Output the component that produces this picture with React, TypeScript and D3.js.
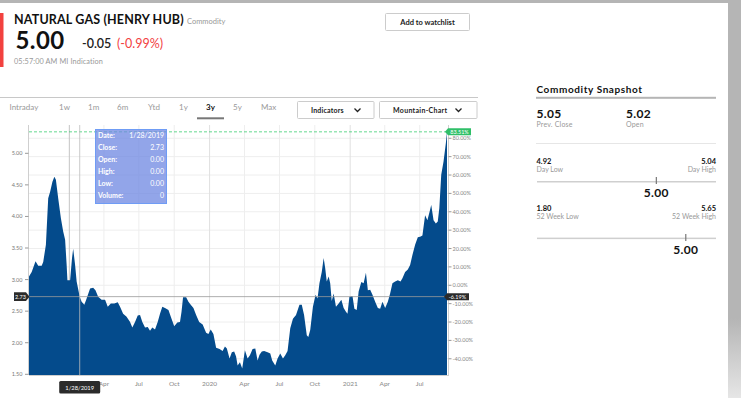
import React from 'react';
import * as d3 from 'd3';

const DATES = [
  '2018-09-18','2018-09-25','2018-10-05','2018-10-12','2018-10-21','2018-10-25','2018-11-01','2018-11-07','2018-11-12','2018-11-18',
  '2018-11-23','2018-11-27','2018-12-03','2018-12-10','2018-12-16','2018-12-21','2018-12-25','2018-12-27','2019-01-03','2019-01-08',
  '2019-01-11','2019-01-16','2019-01-20','2019-01-28','2019-02-02','2019-02-09','2019-02-15','2019-02-24','2019-03-04','2019-03-10',
  '2019-03-17','2019-03-26','2019-04-04','2019-04-11','2019-04-19','2019-04-28','2019-05-07','2019-05-13','2019-05-21','2019-05-30',
  '2019-06-08','2019-06-14','2019-06-21','2019-06-28','2019-07-04','2019-07-10','2019-07-17','2019-07-24','2019-07-30','2019-08-05',
  '2019-08-12','2019-08-19','2019-08-25','2019-08-31','2019-09-07','2019-09-16','2019-09-24','2019-10-01','2019-10-09','2019-10-16',
  '2019-10-20','2019-10-24','2019-11-01','2019-11-07','2019-11-13','2019-11-20','2019-11-27','2019-12-05','2019-12-14','2019-12-23',
  '2019-12-29','2020-01-04','2020-01-11','2020-01-18','2020-01-27','2020-02-04','2020-02-10','2020-02-15','2020-02-22','2020-02-28',
  '2020-03-05','2020-03-10','2020-03-14','2020-03-20','2020-03-26','2020-04-02','2020-04-09','2020-04-15','2020-04-22','2020-04-29',
  '2020-05-05','2020-05-10','2020-05-16','2020-05-22','2020-05-31','2020-06-07','2020-06-12','2020-06-20','2020-06-26','2020-07-03',
  '2020-07-10','2020-07-16','2020-07-22','2020-07-29','2020-08-05','2020-08-13','2020-08-22','2020-08-28','2020-09-03','2020-09-10',
  '2020-09-14','2020-09-19','2020-09-26','2020-10-03','2020-10-08','2020-10-13','2020-10-19','2020-10-24','2020-10-28','2020-11-01',
  '2020-11-06','2020-11-10','2020-11-14','2020-11-19','2020-11-25','2020-12-02','2020-12-09','2020-12-15','2020-12-21','2020-12-25',
  '2020-12-30','2021-01-07','2021-01-12','2021-01-18','2021-01-23','2021-01-30','2021-02-05','2021-02-11','2021-02-16','2021-02-22',
  '2021-02-28','2021-03-07','2021-03-14','2021-03-20','2021-03-26','2021-04-02','2021-04-09','2021-04-15','2021-04-21','2021-04-28',
  '2021-05-05','2021-05-12','2021-05-17','2021-05-24','2021-05-31','2021-06-06','2021-06-12','2021-06-19','2021-06-26','2021-07-02',
  '2021-07-08','2021-07-15','2021-07-21','2021-07-26','2021-07-31','2021-08-06','2021-08-12','2021-08-17','2021-08-21','2021-08-26',
  '2021-09-01','2021-09-07','2021-09-10',
];

const CLOSE = [
  3.05,3.12,3.29,3.22,3.22,3.28,3.55,4.29,4.39,4.55,
  4.63,4.58,4.29,3.97,3.76,3.63,3.23,2.99,2.99,3.34,
  3.49,3.23,2.97,2.73,2.65,2.60,2.70,2.86,2.87,2.83,
  2.73,2.68,2.68,2.57,2.62,2.62,2.64,2.57,2.46,2.41,
  2.33,2.24,2.33,2.43,2.44,2.33,2.24,2.25,2.19,2.24,
  2.21,2.33,2.46,2.57,2.55,2.52,2.38,2.26,2.32,2.33,
  2.49,2.72,2.72,2.65,2.60,2.55,2.44,2.33,2.29,2.16,
  2.14,2.21,2.14,1.92,1.90,1.87,1.94,1.91,1.75,1.85,
  1.86,1.78,1.64,1.69,1.59,1.88,1.75,1.80,1.90,1.91,
  1.72,1.81,1.86,1.87,1.85,1.83,1.72,1.64,1.75,1.83,
  1.75,1.80,1.87,2.23,2.38,2.44,2.60,2.60,2.44,2.12,
  2.09,2.20,2.57,2.76,2.70,2.94,3.12,3.34,3.18,2.97,
  3.05,2.94,2.66,2.78,2.57,2.62,2.68,2.55,2.49,2.46,
  2.73,2.74,2.54,2.52,2.81,2.96,2.94,3.11,2.83,2.84,
  2.76,2.65,2.55,2.54,2.65,2.55,2.65,2.78,2.94,2.97,
  2.99,2.97,3.02,3.12,3.16,3.23,3.39,3.55,3.67,3.68,
  3.70,4.02,3.94,4.06,4.18,3.94,3.89,3.92,4.13,4.66,
  4.87,5.16,5.34,
];

const BASE_PRICE = 2.91;
const PRICE_TICKS = [1.5, 2, 2.5, 3, 3.5, 4, 4.5, 5];
const PCT_TICKS = [-40, -30, -20, -10, 0, 10, 20, 30, 40, 50, 60, 70, 80];
const HOVER_DATE = '2019-01-28';
const HOVER_ROWS = [['Date:', '1/28/2019'], ['Close:', '2.73'], ['Open:', '0.00'], ['High:', '0.00'], ['Low:', '0.00'], ['Volume:', '0']];
const TABS = ['Intraday', '1w', '1m', '6m', 'Ytd', '1y', '3y', '5y', 'Max'];
const ACTIVE_TAB = '3y';

const LAST_PRICE = 5.0;
const CHANGE = '-0.05';
const CHANGE_PCT = '(-0.99%)';
const PREV_CLOSE = 5.05;
const OPEN = 5.02;
const DAY_LOW = 4.92;
const DAY_HIGH = 5.04;
const WEEK52_LOW = 1.8;
const WEEK52_HIGH = 5.65;

const FONT = "Lato, 'Open Sans', sans-serif";
const TAB_X = [9.5, 59, 88, 117, 148, 179, 206, 233, 261];

export default function App() {
  const parse = d3.timeParse('%Y-%m-%d');
  const data = DATES.map((d, i) => ({ date: parse(d) as Date, v: CLOSE[i] }));
  const L = 29, R = 447, T = 125, B = 375;
  const x = d3.scaleTime().domain(d3.extent(data, (d) => d.date) as [Date, Date]).range([L, R]);
  const y = d3.scaleLinear().domain([1.5, 5]).range([374.3, 153.3]);
  const pctY = (p: number) => y(BASE_PRICE * (1 + p / 100));
  const area = d3.area<{ date: Date; v: number }>().x((d) => x(d.date)).y0(B).y1((d) => y(d.v));
  const monthTicks = x.ticks(d3.timeMonth.every(3) as any).filter((d) => d >= new Date(2019, 0, 1));
  const fmt = (d: Date) => (d.getMonth() === 0 ? d3.timeFormat('%Y')(d) : d3.timeFormat('%b')(d));
  const last = data[data.length - 1];
  const lastPct = (last.v / BASE_PRICE - 1) * 100;
  const hover = data.find((d) => d3.timeFormat('%Y-%m-%d')(d.date) === HOVER_DATE)!;
  const hoverPct = (hover.v / BASE_PRICE - 1) * 100;
  const hx = x(hover.date);
  const hy = y(hover.v);
  const ly = y(last.v);

  const dayScale = d3.scaleLinear().domain([DAY_LOW, DAY_HIGH]).range([537, 716]);
  const wkScale = d3.scaleLinear().domain([WEEK52_LOW, WEEK52_HIGH]).range([537, 716]);

  return (
    <svg width={741} height={398} style={{ position: 'absolute', left: 0, top: 0, fontFamily: FONT }}>
      <defs>
        <linearGradient id="sideGrad" x1="0" y1="0" x2="0" y2="1">
          <stop offset="0.8" stopColor="#b5b5b5" />
          <stop offset="1" stopColor="#e6e6e6" />
        </linearGradient>
      </defs>
      <rect x={0} y={0} width={741} height={398} fill="#fff" />
      <rect x={0} y={0} width={741} height={3} fill="#b5b5b5" />
      <rect x={728} y={0} width={13} height={398} fill="url(#sideGrad)" />

      {/* Header */}
      <rect x={0} y={13} width={3.5} height={54} fill="#f2413f" />
      <text x={14} y={24} fontSize={12.5} fontWeight={700} fill="#111" letterSpacing={0.15}>NATURAL GAS (HENRY HUB)</text>
      <text x={187} y={23.5} fontSize={7.5} fill="#999">Commodity</text>
      <text x={15.5} y={48.5} fontSize={24} fontWeight={700} fill="#111" letterSpacing={0.4}>{LAST_PRICE.toFixed(2)}</text>
      <text x={82} y={48.3} fontSize={12.5} fill="#222" fontWeight={700} style={{ fontWeight: 600 }}>{CHANGE}</text>
      <text x={117} y={48.3} fontSize={12.5} fill="#f2413f">{CHANGE_PCT}</text>
      <text x={14} y={64} fontSize={7.3} fill="#999" letterSpacing={0.1}>05:57:00 AM  MI Indication</text>
      <rect x={385.5} y={13.5} width={84} height={17} fill="#fff" stroke="#ccc" rx={1} />
      <text x={427.5} y={24.5} fontSize={7.5} fontWeight={700} fill="#222" textAnchor="middle">Add to watchlist</text>

      {/* Tabs */}
      <line x1={0} x2={478} y1={97.5} y2={97.5} stroke="#c8c8c8" />
      {TABS.map((t, i) => (
        <text key={t} x={TAB_X[i]} y={110} fontSize={8} fill={t === ACTIVE_TAB ? '#111' : '#999'} fontWeight={t === ACTIVE_TAB ? 700 : 400}>{t}</text>
      ))}
      <rect x={197} y={117.3} width={27} height={2} fill="#777" />
      <rect x={297.5} y={101.5} width={76.5} height={17} fill="#fff" stroke="#ccc" rx={1} />
      <text x={311} y={112.5} fontSize={7} fontWeight={700} fill="#222" letterSpacing={0.2}>Indicators</text>
      <path d="M354.5,108.5 L357.5,111.5 L360.5,108.5" fill="none" stroke="#222" strokeWidth={1.3} />
      <rect x={379.5} y={101.5} width={97.5} height={17} fill="#fff" stroke="#ccc" rx={1} />
      <text x={393} y={112.5} fontSize={7} fontWeight={700} fill="#222" letterSpacing={0.3}>Mountain-Chart</text>
      <path d="M455.5,108.5 L458.5,111.5 L461.5,108.5" fill="none" stroke="#222" strokeWidth={1.3} />

      {/* Grid */}
      {PCT_TICKS.map((p) => (
        <line key={'hg' + p} x1={L} x2={R + 1} y1={pctY(p)} y2={pctY(p)} stroke="#eeeeee" />
      ))}
      {monthTicks.map((d, i) => (
        <line key={'vg' + i} x1={x(d)} x2={x(d)} y1={T} y2={B} stroke={i === 0 ? '#c4c4c4' : d.getMonth() === 0 ? '#e0e0e0' : '#eeeeee'} />
      ))}

      {/* Area */}
      <path d={area(data) || ''} fill="#044b8c" />

      {/* Axes */}
      <line x1={L - 0.5} x2={L - 0.5} y1={T} y2={B} stroke="#cfcfcf" />
      <line x1={R + 1.5} x2={R + 1.5} y1={T} y2={B + 1} stroke="#cfcfcf" />
      <line x1={L} x2={R + 1.5} y1={B + 0.5} y2={B + 0.5} stroke="#cfcfcf" />
      {PRICE_TICKS.map((p) => (
        <g key={'lt' + p}>
          <line x1={25} x2={28.5} y1={y(p)} y2={y(p)} stroke="#999" />
          <text x={22.5} y={y(p) + 2} fontSize={5.5} fill="#777" textAnchor="end">{p.toFixed(2)}</text>
        </g>
      ))}
      {PCT_TICKS.map((p) => (
        <g key={'rt' + p}>
          <line x1={R + 1.5} x2={R + 4.5} y1={pctY(p)} y2={pctY(p)} stroke="#999" />
          <text x={R + 5.5} y={pctY(p) + 2} fontSize={5.5} fill="#888">{p.toFixed(2) + '%'}</text>
        </g>
      ))}
      {monthTicks.map((d, i) => (
        <text key={'xl' + i} x={x(d)} y={385.5} fontSize={6.5} fill="#888" textAnchor="middle">{fmt(d)}</text>
      ))}

      {/* Last value line */}
      <line x1={L} x2={R} y1={ly} y2={ly} stroke="#3ccf73" strokeDasharray="3,2" strokeWidth={0.8} />
      <path d={`M${R - 2},${ly} L${R + 1},${ly - 3.5} L${R + 24},${ly - 3.5} L${R + 24},${ly + 3.5} L${R + 1},${ly + 3.5} Z`} fill="#2fbf68" />
      <text x={R + 12.5} y={ly + 2} fontSize={5.5} fill="#fff" textAnchor="middle">{lastPct.toFixed(2) + '%'}</text>

      {/* Crosshair */}
      <line x1={L} x2={R} y1={hy} y2={hy} stroke="#9a9a9a" strokeWidth={0.8} />
      <line x1={hx} x2={hx} y1={T} y2={B} stroke="#bdbdbd" strokeWidth={0.8} />
      <path d={`M14,${hy - 4.3} L26,${hy - 4.3} L29.5,${hy} L26,${hy + 4.3} L14,${hy + 4.3} Z`} fill="#2b2b2b" />
      <text x={20.5} y={hy + 2} fontSize={5.5} fill="#fff" textAnchor="middle">{hover.v.toFixed(2)}</text>
      <path d={`M${R - 3},${hy} L${R},${hy - 3.5} L${R + 22},${hy - 3.5} L${R + 22},${hy + 3.5} L${R},${hy + 3.5} Z`} fill="#2b2b2b" />
      <text x={R + 10.5} y={hy + 2} fontSize={5.5} fill="#fff" textAnchor="middle">{hoverPct.toFixed(2) + '%'}</text>
      <rect x={hx - 20.5} y={381} width={41} height={12.5} rx={1.5} fill="#2b2b2b" />
      <text x={hx} y={389.5} fontSize={5.8} fill="#fff" textAnchor="middle">{HOVER_ROWS[0][1]}</text>

      {/* Tooltip */}
      <rect x={95.5} y={129.5} width={71} height={74} fill="rgba(110,135,225,0.75)" stroke="#6f9cf5" strokeWidth={1} />
      {HOVER_ROWS.map((r, i) => (
        <g key={r[0]}>
          <text x={98} y={138 + i * 12} fontSize={7} fontWeight={700} fill="#fff">{r[0]}</text>
          <text x={164} y={138 + i * 12} fontSize={7} fill="#fff" textAnchor="end">{r[1]}</text>
        </g>
      ))}

      {/* Snapshot */}
      <text x={536.5} y={93} fontSize={10} fontWeight={700} fill="#111" letterSpacing={0.6}>Commodity Snapshot</text>
      <rect x={536} y={96.8} width={180} height={2} fill="#b5b5b5" />
      <text x={536.5} y={118} fontSize={12} fontWeight={700} fill="#111" letterSpacing={0.3}>{PREV_CLOSE.toFixed(2)}</text>
      <text x={536.5} y={126.5} fontSize={7} fill="#999" letterSpacing={0.2}>Prev. Close</text>
      <text x={626} y={118} fontSize={12} fontWeight={700} fill="#111" letterSpacing={0.3}>{OPEN.toFixed(2)}</text>
      <text x={626} y={126.5} fontSize={7} fill="#999" letterSpacing={0.2}>Open</text>
      <line x1={536} x2={716} y1={143.5} y2={143.5} stroke="#e6e6e6" />

      <text x={536.5} y={163.5} fontSize={7.5} fontWeight={700} fill="#111">{DAY_LOW.toFixed(2)}</text>
      <text x={536.5} y={171.5} fontSize={7} fill="#999">Day Low</text>
      <text x={716} y={163.5} fontSize={7.5} fontWeight={700} fill="#111" textAnchor="end">{DAY_HIGH.toFixed(2)}</text>
      <text x={716} y={171.5} fontSize={7} fill="#999" textAnchor="end">Day High</text>
      <rect x={537} y={181} width={179} height={1.5} fill="#cfcfcf" />
      <rect x={dayScale(LAST_PRICE) - 0.6} y={177} width={1.2} height={7} fill="#777" />
      <text x={dayScale(LAST_PRICE)} y={197} fontSize={12} fontWeight={700} fill="#111" textAnchor="middle" letterSpacing={0.3}>{LAST_PRICE.toFixed(2)}</text>

      <text x={536.5} y={210.5} fontSize={7.5} fontWeight={700} fill="#111">{WEEK52_LOW.toFixed(2)}</text>
      <text x={536.5} y={218.5} fontSize={7} fill="#999">52 Week Low</text>
      <text x={716} y={210.5} fontSize={7.5} fontWeight={700} fill="#111" textAnchor="end">{WEEK52_HIGH.toFixed(2)}</text>
      <text x={716} y={218.5} fontSize={7} fill="#999" textAnchor="end">52 Week High</text>
      <rect x={537} y={237.6} width={179} height={1.5} fill="#cfcfcf" />
      <rect x={wkScale(LAST_PRICE) - 0.6} y={234} width={1.2} height={7} fill="#777" />
      <text x={wkScale(LAST_PRICE)} y={253.5} fontSize={12} fontWeight={700} fill="#111" textAnchor="middle" letterSpacing={0.3}>{LAST_PRICE.toFixed(2)}</text>
    </svg>
  );
}
